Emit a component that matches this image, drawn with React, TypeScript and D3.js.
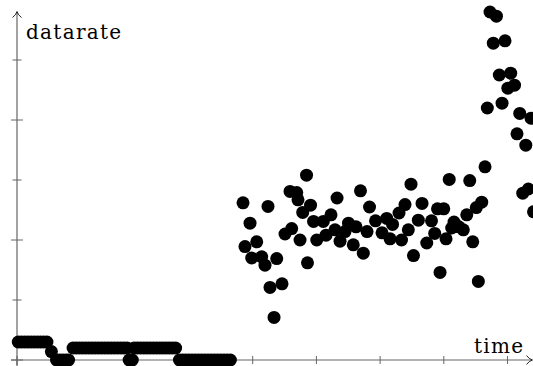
import React from "react";
import * as d3 from "d3";

// samples: time (s) and datarate
const time = [
  3.2, 3.7, 4.2, 4.7, 5.2, 5.7, 6.2, 6.7, 7.2, 7.7,
  8.4,
  9.2, 9.7, 10.2, 10.7, 11.1,
  11.8, 12.3, 12.8, 13.3, 13.8, 14.3, 14.8, 15.3, 15.8, 16.3, 16.8, 17.3, 17.8, 18.3, 18.8, 19.3, 19.8, 20.3,
  20.6, 21.1,
  21.4, 21.9, 22.4, 22.9, 23.4, 23.9, 24.4, 24.9, 25.4, 25.9, 26.4, 26.9, 27.4, 27.9,
  28.5, 29.0, 29.5, 30.0, 30.5, 31.0, 31.5, 32.0, 32.5, 33.0, 33.5, 34.0, 34.5, 35.0, 35.5, 36.0, 36.5,
  38.48, 38.79, 39.58, 39.84, 40.63, 41.41, 41.93, 42.4, 42.72, 43.35,
  43.77, 44.6, 45.07, 45.86, 46.12, 46.91, 47.11, 47.43, 47.85, 48.45,
  48.6, 49.08, 49.55, 50.05, 51.08, 51.51, 52.29, 52.92, 53.24, 53.71,
  54.49, 55.04, 55.79, 56.22, 56.92, 57.36, 57.95, 58.34, 59.28, 60.3,
  61.04, 61.56, 61.95, 62.97, 63.36, 63.91, 64.43, 64.85, 65.24, 66.0,
  66.58, 67.32, 68.07, 68.57, 69.01, 69.41, 69.99, 70.35, 70.85, 71.24,
  71.6, 72.36, 73.06, 73.6, 74.07, 74.54, 75.1, 75.42, 75.95, 76.47,
  76.83, 77.25, 77.77, 78.26, 78.71, 79.14, 79.61, 80.05, 80.5, 81.1,
  81.49, 81.92, 82.39, 82.87, 83.27, 83.69, 84.08,
];
const datarate = [
  0.3, 0.3, 0.3, 0.3, 0.3, 0.3, 0.3, 0.3, 0.3, 0.3,
  0.14,
  0, 0, 0, 0, 0,
  0.2, 0.2, 0.2, 0.2, 0.2, 0.2, 0.2, 0.2, 0.2, 0.2, 0.2, 0.2, 0.2, 0.2, 0.2, 0.2, 0.2, 0.2,
  0, 0,
  0.2, 0.2, 0.2, 0.2, 0.2, 0.2, 0.2, 0.2, 0.2, 0.2, 0.2, 0.2, 0.2, 0.2,
  0, 0, 0, 0, 0, 0, 0, 0, 0, 0, 0, 0, 0, 0, 0, 0, 0,
  2.62, 1.89, 2.28, 1.7, 1.97, 1.72, 1.58, 2.56, 1.21, 0.71,
  1.69, 1.27, 2.1, 2.81, 2.19, 2.79, 2.67, 2.0, 2.46, 3.08,
  1.62, 2.58, 2.31, 2.0, 2.31, 2.08, 2.42, 2.17, 2.7, 1.98,
  2.14, 2.28, 1.92, 2.22, 2.82, 1.78, 2.14, 2.55, 2.32, 2.12,
  2.36, 2.02, 2.26, 2.45, 2.0, 2.59, 2.17, 2.93, 1.74, 2.33,
  2.61, 1.95, 2.32, 2.11, 2.52, 1.46, 2.52, 2.02, 3.01, 2.2,
  2.3, 2.22, 2.17, 2.42, 2.99, 1.97, 2.54, 1.31, 2.63, 3.22,
  4.2, 5.8, 5.28, 5.73, 4.75, 4.28, 5.32, 4.53, 4.78, 4.58,
  3.77, 4.11, 2.78, 3.58, 2.85, 4.03, 2.47,
];
const xTicks = [10, 20, 30, 40, 50, 60, 70, 80];
const yTicks = [0, 1, 2, 3, 4, 5];

const W = 533;
const H = 366;

export default function App() {
  const x = d3.scaleLinear().domain([3, 84]).range([17, 533]);
  const y = d3.scaleLinear().domain([0, 6]).range([360, 0]);
  const x0 = x(3);
  const y0 = y(0);
  const axisColor = "#666";
  const font = "'DejaVu Serif', serif";

  return (
    <div style={{ position: "fixed", left: 0, top: 0 }}>
      <svg width={W} height={H} style={{ display: "block", background: "#fff" }}>
        {/* axes */}
        <line x1={x0} y1={y0 + 6} x2={x0} y2={12} stroke={axisColor} strokeWidth={1.2} />
        <line x1={x0 - 6} y1={y0} x2={531} y2={y0} stroke={axisColor} strokeWidth={1.2} />
        <line x1={x0} y1={y0 - 4} x2={x0} y2={y0 + 5} stroke={axisColor} strokeWidth={1.2} />
        {yTicks.map((t) => {
          const len = t % 2 === 0 ? 6 : 4.5;
          return (
            <line key={"y" + t} x1={x0 - len} x2={x0 + len} y1={y(t)} y2={y(t)} stroke={axisColor} strokeWidth={1} />
          );
        })}
        {xTicks.map((t) => (
          <line key={"x" + t} x1={x(t)} x2={x(t)} y1={y0 - 4} y2={y0 + 4} stroke={axisColor} strokeWidth={1} />
        ))}
        {/* arrow heads */}
        <path
          d={`M${x0 - 4.5},${17.5} Q${x0 - 1},${15} ${x0},${11.5} Q${x0 + 1},${15} ${x0 + 4.5},${17.5}`}
          fill="none"
          stroke="#222"
          strokeWidth={1}
        />
        <path
          d={`M${526.5},${y0 - 4.5} Q${529},${y0 - 1} ${532.5},${y0} Q${529},${y0 + 1} ${526.5},${y0 + 4.5}`}
          fill="none"
          stroke="#222"
          strokeWidth={1}
        />
        {/* points */}
        {time.map((t, i) => (
          <circle key={i} cx={x(t)} cy={y(datarate[i])} r={6.5} fill="#000" />
        ))}
        {/* labels */}
        <text x={26} y={39} fontFamily={font} fontSize={20} letterSpacing={1.3} fill="#000">
          datarate
        </text>
        <text x={474} y={353} fontFamily={font} fontSize={20} letterSpacing={1.3} fill="#000">
          time
        </text>
      </svg>
    </div>
  );
}
